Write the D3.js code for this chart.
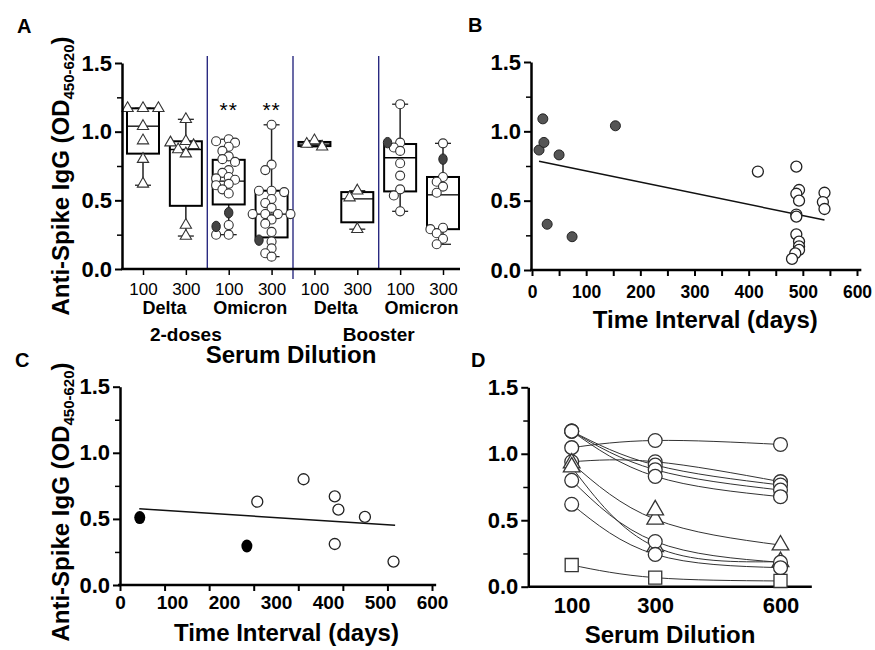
<!DOCTYPE html>
<html>
<head>
<meta charset="utf-8">
<script src="https://cdn.jsdelivr.net/npm/d3@7"></script>
<style>
body { margin: 0; background: #fff; }
svg { display: block; }
</style>
</head>
<body>
<div id="chart"></div>
<script>
// ---- panel A : box plots by serum dilution
var aDilutions = ["100", "300", "100", "300", "100", "300", "100", "300"];
var aVariants = ["Delta", "Omicron", "Delta", "Omicron"];
var aRegimens = ["2-doses", "Booster"];
var aShapes = ["triangle", "triangle", "circle", "circle", "triangle", "triangle", "circle", "circle"];
var aStars = ["", "", "**", "**", "", "", "", ""];
var aMin = [0.61, 0.24, 0.25, 0.09, 0.89, 0.29, 0.42, 0.18];
var aQ1 = [0.84, 0.46, 0.47, 0.23, 0.895, 0.34, 0.565, 0.29];
var aMed = [1.04, 0.87, 0.64, 0.40, 0.91, 0.51, 0.81, 0.54];
var aQ3 = [1.17, 0.93, 0.795, 0.57, 0.925, 0.56, 0.91, 0.67];
var aMax = [1.17, 1.09, 0.945, 1.05, 0.935, 0.57, 1.20, 0.915];
var aOpen = [
	[1.17, 1.17, 1.17, 1.04, 0.935, 0.80, 0.62],
	[1.09, 0.93, 0.92, 0.90, 0.87, 0.84, 0.32, 0.24],
	[0.945, 0.93, 0.92, 0.89, 0.86, 0.82, 0.80, 0.78, 0.72, 0.70, 0.67, 0.66, 0.65, 0.62, 0.61, 0.58, 0.55, 0.32, 0.25, 0.25],
	[1.05, 0.76, 0.72, 0.57, 0.57, 0.56, 0.51, 0.48, 0.445, 0.40, 0.40, 0.40, 0.40, 0.36, 0.33, 0.27, 0.20, 0.15, 0.115, 0.09],
	[0.935, 0.91, 0.89],
	[0.57, 0.52, 0.29],
	[1.20, 0.92, 0.885, 0.86, 0.77, 0.68, 0.58, 0.535, 0.42],
	[0.915, 0.67, 0.635, 0.60, 0.555, 0.30, 0.29, 0.26, 0.22, 0.18]
];
var aFilled = [[], [], [0.41, 0.31], [0.21], [], [], [0.92], [0.80]];

// ---- panel B : OD vs time interval
var bFilledDays = [13, 20, 22, 50, 154, 28, 74];
var bFilledVals = [0.865, 1.09, 0.92, 0.83, 1.04, 0.33, 0.24];
var bOpenDays = [417, 488, 493, 488, 493, 488, 488, 488, 493, 493, 493, 486, 480, 540, 537, 540];
var bOpenVals = [0.71, 0.745, 0.577, 0.55, 0.50, 0.40, 0.385, 0.257, 0.205, 0.17, 0.145, 0.12, 0.08, 0.557, 0.49, 0.44];
var bFitDays = [13, 540];
var bFitVals = [0.785, 0.36];

// ---- panel C : OD vs time interval
var cFilledDays = [38, 244];
var cFilledVals = [0.51, 0.295];
var cOpenDays = [264, 353, 413, 420, 413, 471, 526];
var cOpenVals = [0.63, 0.80, 0.67, 0.57, 0.31, 0.515, 0.177];
var cFitDays = [37, 529];
var cFitVals = [0.576, 0.452];

// ---- panel D : dilution series per sample
var dDilutions = [100, 300, 600];
var dShapes = ["circle", "circle", "circle", "circle", "circle", "triangle", "triangle", "triangle", "circle", "circle", "square"];
var dValues = [
	[1.046, 1.10, 1.07],
	[0.94, 0.94, 0.79],
	[1.17, 0.915, 0.765],
	[1.17, 0.88, 0.727],
	[1.17, 0.83, 0.677],
	[0.93, 0.507, 0.313],
	[0.90, 0.30, 0.188],
	[null, 0.577, null],
	[0.80, 0.34, 0.183],
	[0.62, 0.243, 0.143],
	[0.163, 0.068, 0.043]
];

var yTicks = [0, 0.5, 1, 1.5];
var yMinor = [0.25, 0.75, 1.25];

var FONT = '"Liberation Sans", Arial, Helvetica, sans-serif';
var width = 875, height = 650;

var svg = d3.select('#chart')
	.append('svg')
		.attr('width', width)
		.attr('height', height)
		.style('font-family', FONT);

svg.append('rect').attr('width', width).attr('height', height).attr('fill', '#fff');

function styleText(sel, size, weight) {
	sel.selectAll('text')
		.style('font-family', FONT)
		.style('font-size', size + 'px')
		.style('font-weight', weight)
		.attr('fill', '#000');
}

function drawYAxis(x0, y) {
	var g = svg.append('g').attr('transform', `translate(${x0},0)`);
	g.call(d3.axisLeft(y).tickValues(yTicks).tickFormat(d3.format('.1f')).tickSize(7).tickSizeOuter(0).tickPadding(3));
	g.select('.domain').attr('stroke-width', 2.5);
	g.selectAll('.tick line').attr('stroke-width', 2);
	styleText(g, 22, 'bold');
	var m = svg.append('g').attr('transform', `translate(${x0},0)`);
	m.call(d3.axisLeft(y).tickValues(yMinor).tickSize(5).tickFormat(''));
	m.select('.domain').remove();
	m.selectAll('.tick line').attr('stroke-width', 1.5);
}

function yTitle(x0, yc) {
	var t = svg.append('text')
		.attr('transform', `translate(${x0},${yc}) rotate(-90)`)
		.attr('text-anchor', 'middle')
		.style('font-size', '24px')
		.style('font-weight', 'bold');
	t.append('tspan').text('Anti-Spike IgG (OD');
	t.append('tspan').attr('dy', 5).style('font-size', '15px').text('450-620');
	t.append('tspan').attr('dy', -5).text(')');
}

function panelLetter(txt, x, y) {
	svg.append('text').attr('x', x).attr('y', y)
		.style('font-size', '20px').style('font-weight', 'bold').text(txt);
}

function marker(g, shape, x, y, size, fill, stroke, sw) {
	if (shape == 'circle') {
		return g.append('circle').attr('cx', x).attr('cy', y).attr('r', Math.sqrt(size / Math.PI))
			.attr('fill', fill).attr('stroke', stroke).attr('stroke-width', sw);
	}
	var sym = shape == 'triangle' ? d3.symbolTriangle : d3.symbolSquare;
	return g.append('path')
		.attr('d', d3.symbol(sym, size)())
		.attr('transform', `translate(${x},${y})`)
		.attr('fill', fill).attr('stroke', stroke).attr('stroke-width', sw);
}

// ================= PANEL A =================
var yA = d3.scaleLinear().domain([0, 1.5]).range([269, 63]);
var xA = d3.scalePoint().domain(d3.range(aDilutions.length)).range([143, 443]);
var boxW = 32;
var axisLeftA = 122, axisRightA = 460;

// group separators
[1, 3, 5].forEach(function(i) {
	var sx = (xA(i) + xA(i + 1)) / 2;
	svg.append('line')
		.attr('x1', sx).attr('x2', sx)
		.attr('y1', 56).attr('y2', i == 3 ? 279 : yA(0))
		.attr('stroke', '#1b1b78').attr('stroke-width', 1.3);
});

var gA = svg.append('g');
aDilutions.forEach(function(d, i) {
	var cx = xA(i);
	// whiskers
	gA.append('line').attr('x1', cx).attr('x2', cx).attr('y1', yA(aMin[i])).attr('y2', yA(aQ1[i]))
		.attr('stroke', '#222').attr('stroke-width', 1.5);
	gA.append('line').attr('x1', cx).attr('x2', cx).attr('y1', yA(aQ3[i])).attr('y2', yA(aMax[i]))
		.attr('stroke', '#222').attr('stroke-width', 1.5);
	[aMin[i], aMax[i]].forEach(function(v) {
		gA.append('line').attr('x1', cx - 8).attr('x2', cx + 8).attr('y1', yA(v)).attr('y2', yA(v))
			.attr('stroke', '#222').attr('stroke-width', 1.3);
	});
	// box
	gA.append('rect')
		.attr('x', cx - boxW / 2).attr('width', boxW)
		.attr('y', yA(aQ3[i])).attr('height', yA(aQ1[i]) - yA(aQ3[i]))
		.attr('fill', '#fff').attr('stroke', '#000').attr('stroke-width', 2);
	gA.append('line').attr('x1', cx - boxW / 2).attr('x2', cx + boxW / 2)
		.attr('y1', yA(aMed[i])).attr('y2', yA(aMed[i]))
		.attr('stroke', '#000').attr('stroke-width', 1.3);

	// points, spread sideways when they overlap
	var pts = aOpen[i].map(v => ({ v: v, filled: false }))
		.concat(aFilled[i].map(v => ({ v: v, filled: true })));
	var r = aShapes[i] == 'triangle' ? 5.5 : 4.5;
	var placed = [];
	pts.forEach(function(p) {
		var py = yA(p.v), dx = 0;
		var steps = [0, -1, 1, -2, 2, -3, 3];
		for (var k = 0; k < steps.length; k++) {
			var cand = steps[k] * r * 1.4;
			var hit = placed.some(q => Math.hypot(q.dx - cand, q.y - py) < r * 1.5);
			if (!hit) { dx = cand; break; }
		}
		placed.push({ dx: dx, y: py });
		p.dx = dx;
	});
	pts.forEach(function(p) {
		if (p.filled) {
			gA.append('ellipse').attr('cx', cx + p.dx).attr('cy', yA(p.v)).attr('rx', 4.2).attr('ry', 5.2)
				.attr('fill', '#444').attr('stroke', '#222').attr('stroke-width', 1);
		} else {
			marker(gA, aShapes[i], cx + p.dx, yA(p.v), aShapes[i] == 'triangle' ? 55 : 64, '#fff', '#333', 1.1);
		}
	});
	if (aStars[i]) {
		svg.append('text').attr('x', cx).attr('y', 117).attr('text-anchor', 'middle')
			.style('font-size', '21px').style('letter-spacing', '1px').text(aStars[i]);
	}
});

// axes A
drawYAxis(axisLeftA, yA);
svg.append('line').attr('x1', axisLeftA - 1).attr('x2', axisRightA).attr('y1', yA(0)).attr('y2', yA(0))
	.attr('stroke', '#000').attr('stroke-width', 2.5);
var xAxA = svg.append('g').attr('transform', `translate(0,${yA(0)})`)
	.call(d3.axisBottom(xA).tickSize(6).tickPadding(8).tickFormat(i => aDilutions[i]));
xAxA.select('.domain').remove();
xAxA.selectAll('.tick line').attr('stroke-width', 1.5);
styleText(xAxA, 17, 'normal');

aVariants.forEach(function(v, k) {
	svg.append('text').attr('x', (xA(2 * k) + xA(2 * k + 1)) / 2).attr('y', 314)
		.attr('text-anchor', 'middle').style('font-size', '18px').style('font-weight', 'bold').text(v);
});
// regimen labels sit under the 2nd category and between the booster pairs
var regimenAt = [xA(1), (xA(5) + xA(6)) / 2];
aRegimens.forEach(function(v, k) {
	svg.append('text').attr('x', regimenAt[k]).attr('y', 341)
		.attr('text-anchor', 'middle').style('font-size', '19px').style('font-weight', 'bold').text(v);
});
svg.append('text').attr('x', (axisLeftA + axisRightA) / 2).attr('y', 363)
	.attr('text-anchor', 'middle').style('font-size', '24px').style('font-weight', 'bold').text('Serum Dilution');
yTitle(69, 176);
panelLetter('A', 17, 33);

// ================= PANEL B =================
var yB = d3.scaleLinear().domain([0, 1.5]).range([270, 62]);
var xB = d3.scaleLinear().domain([0, 600]).range([532, 857]);

svg.append('line').attr('x1', xB(0) - 2).attr('x2', xB(608)).attr('y1', yB(0)).attr('y2', yB(0))
	.attr('stroke', '#000').attr('stroke-width', 2.5);
var bTicks = svg.append('g').attr('transform', `translate(0,${yB(0)})`)
	.call(d3.axisBottom(xB).tickValues(d3.range(0, 601, 50)).tickSize(6).tickFormat(''));
bTicks.select('.domain').remove();
bTicks.selectAll('.tick line').attr('stroke-width', 2);
var bLab = svg.append('g').attr('transform', `translate(0,${yB(0)})`)
	.call(d3.axisBottom(xB).tickValues(d3.range(0, 601, 100)).tickSize(0).tickPadding(16));
bLab.select('.domain').remove();
styleText(bLab, 17.5, 'bold');
drawYAxis(xB(0) - 1, yB);

svg.append('line')
	.attr('x1', xB(bFitDays[0])).attr('y1', yB(bFitVals[0]))
	.attr('x2', xB(bFitDays[1])).attr('y2', yB(bFitVals[1]))
	.attr('stroke', '#111').attr('stroke-width', 1.5);
bFilledDays.forEach(function(d, i) {
	svg.append('circle').attr('cx', xB(d)).attr('cy', yB(bFilledVals[i])).attr('r', 5)
		.attr('fill', '#555').attr('stroke', '#222').attr('stroke-width', 1);
});
bOpenDays.forEach(function(d, i) {
	svg.append('circle').attr('cx', xB(d)).attr('cy', yB(bOpenVals[i])).attr('r', 5.5)
		.attr('fill', '#fff').attr('stroke', '#222').attr('stroke-width', 1.3);
});
svg.append('text').attr('x', xB(320)).attr('y', 328)
	.attr('text-anchor', 'middle').style('font-size', '24px').style('font-weight', 'bold').text('Time Interval (days)');
panelLetter('B', 468, 32);

// ================= PANEL C =================
var yC = d3.scaleLinear().domain([0, 1.5]).range([585, 386.7]);
var xC = d3.scaleLinear().domain([0, 600]).range([120, 432]);

svg.append('line').attr('x1', xC(0) - 2).attr('x2', xC(608)).attr('y1', yC(0)).attr('y2', yC(0))
	.attr('stroke', '#000').attr('stroke-width', 2.5);
// tick marks here do not line up with the labels in the source figure (7 even steps)
var cTicks = svg.append('g').attr('transform', `translate(0,${yC(0)})`)
	.call(d3.axisBottom(xC).tickValues(d3.range(8).map(k => k * 600 / 7)).tickSize(6).tickFormat(''));
cTicks.select('.domain').remove();
cTicks.selectAll('.tick line').attr('stroke-width', 2);
var cLab = svg.append('g').attr('transform', `translate(0,${yC(0)})`)
	.call(d3.axisBottom(xC).tickValues(d3.range(0, 601, 100)).tickSize(0).tickPadding(11));
cLab.select('.domain').remove();
styleText(cLab, 19, 'bold');
drawYAxis(xC(0), yC);

svg.append('line')
	.attr('x1', xC(cFitDays[0])).attr('y1', yC(cFitVals[0]))
	.attr('x2', xC(cFitDays[1])).attr('y2', yC(cFitVals[1]))
	.attr('stroke', '#111').attr('stroke-width', 1.5);
cFilledDays.forEach(function(d, i) {
	svg.append('ellipse').attr('cx', xC(d)).attr('cy', yC(cFilledVals[i])).attr('rx', 5.5).attr('ry', 6.5)
		.attr('fill', '#000');
});
cOpenDays.forEach(function(d, i) {
	svg.append('circle').attr('cx', xC(d)).attr('cy', yC(cOpenVals[i])).attr('r', 5.5)
		.attr('fill', '#fff').attr('stroke', '#222').attr('stroke-width', 1.3);
});
svg.append('text').attr('x', xC(320)).attr('y', 641)
	.attr('text-anchor', 'middle').style('font-size', '24px').style('font-weight', 'bold').text('Time Interval (days)');
yTitle(69, 502);
panelLetter('C', 15, 367);

// ================= PANEL D =================
var yD = d3.scaleLinear().domain([0, 1.5]).range([586.7, 387.3]);
var xD = d3.scaleLinear().domain([100, 600]).range([571.7, 780.5]);

svg.append('line').attr('x1', xD(-4)).attr('x2', xD(675)).attr('y1', yD(0)).attr('y2', yD(0))
	.attr('stroke', '#000').attr('stroke-width', 2.5);
var dLab = svg.append('g').attr('transform', `translate(0,${yD(0)})`)
	.call(d3.axisBottom(xD).tickValues(dDilutions).tickSize(0).tickPadding(11).tickFormat(d3.format('d')));
dLab.select('.domain').remove();
styleText(dLab, 22, 'bold');
drawYAxis(xD(-4), yD);

var lineD = d3.line()
	.defined(d => d.v != null)
	.x(d => xD(d.x))
	.y(d => yD(d.v))
	.curve(d3.curveNatural);
var gD = svg.append('g');
dValues.forEach(function(vals) {
	var pts = vals.map((v, k) => ({ x: dDilutions[k], v: v })).filter(p => p.v != null);
	if (pts.length > 1) {
		gD.append('path').datum(pts).attr('d', lineD)
			.attr('fill', 'none').attr('stroke', '#333').attr('stroke-width', 1);
	}
});
dValues.forEach(function(vals, s) {
	vals.forEach(function(v, k) {
		if (v == null) return;
		var sz = dShapes[s] == 'circle' ? 150 : (dShapes[s] == 'triangle' ? 120 : 170);
		marker(gD, dShapes[s], xD(dDilutions[k]), yD(v), sz, '#fff', '#333', 1.3);
	});
});
svg.append('text').attr('x', (xD(-4) + xD(675)) / 2).attr('y', 643)
	.attr('text-anchor', 'middle').style('font-size', '24px').style('font-weight', 'bold').text('Serum Dilution');
panelLetter('D', 471, 367);
</script>
</body>
</html>
